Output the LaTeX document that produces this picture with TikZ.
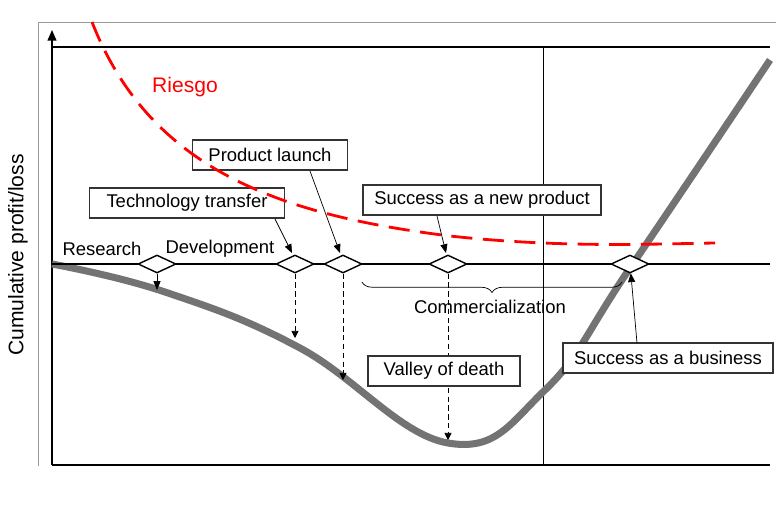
\documentclass[tikz,border=0pt]{standalone}
\usepackage{fontspec}
\setmainfont{Liberation Sans}
\usetikzlibrary{shapes.geometric,decorations.pathreplacing,arrows.meta}
\begin{document}
\begin{tikzpicture}[x=0.02cm,y=-0.02cm,font=\fontsize{10.5}{12}\selectfont,
    stage/.style={shape=diamond,draw=black,thick,fill=white,minimum width=0.76cm,minimum height=0.36cm,inner sep=0pt},
    event/.style={draw=black!80,thick,fill=white,inner sep=3pt,minimum height=0.6cm},
    drop/.style={densely dashed,-{Triangle[width=4pt,length=4pt]}},
    call/.style={-{Triangle[width=4pt,length=5pt]}}]
    \useasboundingbox (0,0) rectangle (776,518);
            \draw[black!40] (38,22) -- (38,466);
            \draw[black!40] (38,22) -- (776,22);
            \draw[thick] (52,465) -- (770,465);
            \draw[thick,-{Triangle[width=5pt,length=6pt]}] (52,465) -- (52,30);
            \draw[thick] (52,47) -- (770,47);
            \draw (543,47) -- (543,465);
            \node[rotate=90,font=\fontsize{12}{14}\selectfont] (Y) at (18,255) {Cumulative profit/loss};

            % the curve
            \draw[line width=4pt,black!55] plot[smooth,tension=0.7] coordinates
              {(52,264) (165,292) (300,348) (448,443) (545,390) (630,268) (770,60)};
            \draw[thick] (52,264) -- (770,264);

            \node[stage] (R) at (157,264) {};
            \node[stage] (T) at (295,264) {};
            \node[stage] (P) at (343,264) {};
            \node[stage] (N) at (448,264) {};
            \node[stage] (B) at (630,264) {};
            \coordinate (r) at (157,290);
            \coordinate (t) at (295,338);
            \coordinate (p) at (343,380);
            \coordinate (n) at (448,440);
            \path[call] (R) edge (r);
            \path[drop] (T) edge (t);
            \path[drop] (P) edge (p);
            \path[drop] (N) edge (n);

            \node (RL) at (102,249) {Research};
            \node (DL) at (220,249) {Development};

            \node[event,minimum width=3.9cm] (TT) at (187,203) {Technology transfer};
            \node[event,minimum width=3.1cm] (PL) at (270,155) {Product launch};
            \node[event,minimum width=4.76cm] (SN) at (482,200) {Success as a new product};
            \node[event,minimum width=3.04cm] (VD) at (444,371) {Valley of death};
            \node[event,minimum width=4.2cm] (SB) at (668,358) {Success as a business};
            \path[call] (275,219) edge (292,253);
            \path[call] (310,171) edge (340,253);
            \path[call] (437,216) edge (446,253);
            \path[call] (637,343) edge (B);

            \draw[decorate,decoration={brace,amplitude=6pt,mirror}] (362,282) -- (622,282);
            \node (CL) at (490,307) {Commercialization};

            % risk
            \draw[red,line width=1.6pt,dash pattern=on 12pt off 6pt] (92,22) .. controls (150,170) and (280,215) .. (450,236) .. controls (560,248) and (650,244) .. (715,243);
            \node[red,font=\fontsize{12}{14}\selectfont] (RI) at (185,87) {Riesgo};
        \end{tikzpicture}
\end{document}
